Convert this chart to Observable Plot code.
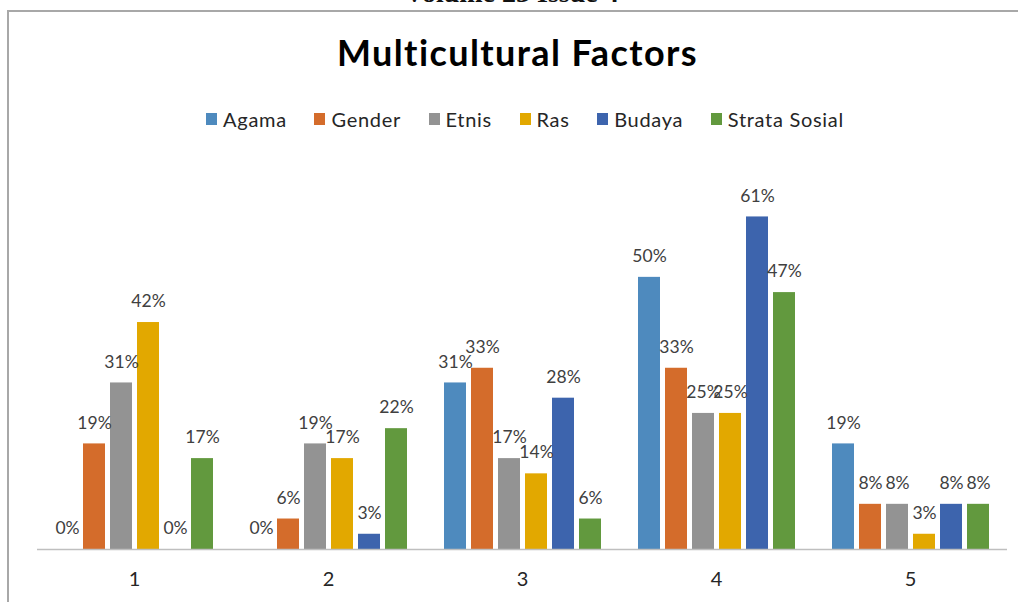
<!DOCTYPE html>
<html>
<head>
<meta charset="utf-8">
<script src="https://cdn.jsdelivr.net/npm/d3@7"></script>
<script src="https://cdn.jsdelivr.net/npm/@observablehq/plot@0.6"></script>
<style>
  html, body { margin: 0; padding: 0; background: #fff; }
  #wrap { position: relative; width: 1018px; height: 602px; overflow: hidden; font-family: Lato, sans-serif; }
  #hdr { position: absolute; top: -21px; left: 0; width: 1023px; text-align: center;
         font: bold 28px/28px "Liberation Serif", serif; color: #111; white-space: nowrap; }
  #frame { position: absolute; left: 7px; top: 10px; width: 1030px; height: 620px;
           border-left: 2px solid #a8a8a8; border-top: 2px solid #a8a8a8; }
  #title { position: absolute; top: 34px; left: 0; width: 1035px; text-align: center;
           font: bold 36px/36px Lato, sans-serif; letter-spacing: 1.4px; color: #000; white-space: nowrap; }
  #legend { position: absolute; top: 109px; left: 0; width: 1050px; display: flex; justify-content: center;
            align-items: center; font: 20px/20px Lato, sans-serif; letter-spacing: 0.7px; color: #262626; }
  .item { display: flex; align-items: center; margin: 0 13.8px; white-space: nowrap; }
  .sw { width: 11px; height: 12px; margin-right: 6px; }
  #chart { position: absolute; top: 150px; left: 0; }
</style>
</head>
<body>
<div id="wrap">
  <div id="hdr">Volume 23 Issue 4</div>
  <div id="frame"></div>
  <div id="title">Multicultural Factors</div>
  <div id="legend"></div>
  <div id="chart"></div>
</div>
<script>
// Categories (x groups) and series
const groups = ["1", "2", "3", "4", "5"];
const series = ["Agama", "Gender", "Etnis", "Ras", "Budaya", "Strata Sosial"];
const colors = ["#4E8ABE", "#D46C2B", "#939393", "#E2A800", "#3D64AD", "#62993E"];

// Series values in percent, one per group (1..5)
const agama  = [0, 0, 30.6, 50, 19.4];
const gender = [19.4, 5.6, 33.3, 33.3, 8.3];
const etnis  = [30.6, 19.4, 16.7, 25, 8.3];
const ras    = [41.7, 16.7, 13.9, 25, 2.8];
const budaya = [0, 2.8, 27.8, 61.1, 8.3];
const strata = [16.7, 22.2, 5.6, 47.2, 8.3];

const seriesValues = [agama, gender, etnis, ras, budaya, strata];
const data = groups.flatMap((g, i) =>
  series.map((s, j) => ({ group: g, series: s, value: seriesValues[j][i] / 100 }))
);

// Legend
const legend = document.getElementById("legend");
series.forEach((s, j) => {
  const it = document.createElement("div");
  it.className = "item";
  const sw = document.createElement("span");
  sw.className = "sw";
  sw.style.background = colors[j];
  const tx = document.createElement("span");
  tx.textContent = s;
  it.appendChild(sw);
  it.appendChild(tx);
  legend.appendChild(it);
});

const chart = Plot.plot({
  width: 1018,
  height: 452,
  marginLeft: 36,
  marginRight: 10,
  marginTop: 18,
  marginBottom: 53,
  style: { fontFamily: "Lato, sans-serif", fontSize: "17px", color: "#404040", background: "transparent", overflow: "visible" },
  fx: { domain: groups, padding: 0, label: null, axis: null },
  x: { domain: series, paddingInner: 0.2, paddingOuter: 0.64, axis: null },
  y: { domain: [0, 0.7], axis: null },
  color: { domain: series, range: colors },
  marks: [
    Plot.barY(data, { fx: "group", x: "series", y: "value", fill: "series" }),
    Plot.ruleY([0], { stroke: "#BFBFBF", strokeWidth: 1.5 }),
    Plot.text(data, {
      fx: "group", x: "series", y: "value",
      text: d => Math.round(d.value * 100) + "%",
      dy: -21, lineAnchor: "middle", fill: "#404040", fontSize: 17.5
    }),
    Plot.axisFx({ anchor: "bottom", tickSize: 0, tickPadding: 22, fontSize: 20, label: null, color: "#262626" })
  ]
});
document.getElementById("chart").appendChild(chart);
</script>
</body>
</html>
